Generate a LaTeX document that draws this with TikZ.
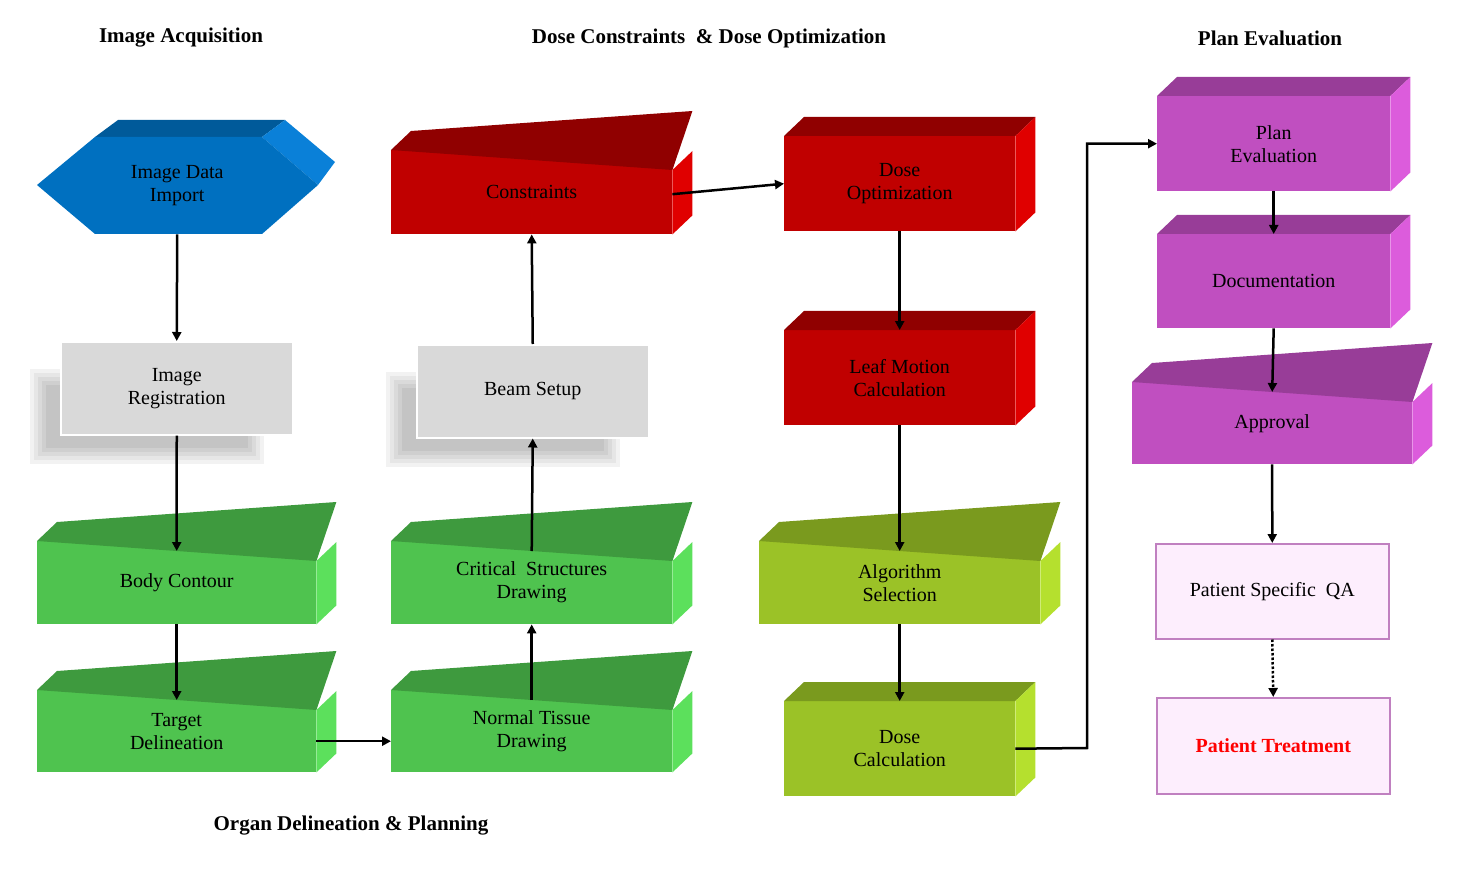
\documentclass[tikz,border=0pt]{standalone}
\usepackage{fontspec}
\setmainfont{Liberation Serif}
\usetikzlibrary{arrows.meta}
\definecolor{grfront}{HTML}{4FC34F}\definecolor{grtop}{HTML}{3E9A3E}\definecolor{grside}{HTML}{5CE05C}
\definecolor{rdfront}{HTML}{C00000}\definecolor{rdtop}{HTML}{900000}\definecolor{rdside}{HTML}{E00000}
\definecolor{ygfront}{HTML}{9BC227}\definecolor{ygtop}{HTML}{7A9A1E}\definecolor{ygside}{HTML}{B5E02E}
\definecolor{pufront}{HTML}{C04FC0}\definecolor{putop}{HTML}{983D98}\definecolor{puside}{HTML}{DC5CDC}
\definecolor{blfront}{HTML}{0070C0}\definecolor{bltop}{HTML}{005A9A}\definecolor{blside}{HTML}{0A80D8}
\definecolor{gyfront}{HTML}{D9D9D9}\definecolor{pkfront}{HTML}{FDEEFD}\definecolor{pkline}{HTML}{C080C0}
% plain cube: top and right faces behind the front rectangle
\newcommand{\cubefaces}[3]{%
  \fill[#2] (#1.north west) -- ++(20,-19) -- ([shift={(20,-19)}]#1.north east) -- (#1.north east) -- cycle;
  \fill[#3] (#1.north east) -- ++(20,-19) -- ([shift={(20,-19)}]#1.south east) -- (#1.south east) -- cycle;}
% slanted cube: front top edge rises to the right
\newcommand{\slantfaces}[4]{%
  \fill[#2] (#1.north west) -- ([yshift=-20]#1.north east) -- (#1.north east) -- cycle;
  \fill[#3] (#1.north west) -- ++(20,-19) -- ([shift={(20,-39)}]#1.north east) -- ([yshift=-20]#1.north east) -- cycle;
  \fill[#4] ([yshift=-20]#1.north east) -- ++(20,-19) -- ([shift={(20,-19)}]#1.south east) -- (#1.south east) -- cycle;}
\newcommand{\softshadow}[1]{%
  \foreach \s in {0,4,...,16}
    \fill[black,opacity=0.05] ([shift={(-30+\s,28-\s)}]#1.south west) rectangle ([shift={(-30-\s,28+\s)}]#1.north east);}
\begin{document}
\begin{tikzpicture}[x=1pt,y=-1pt,
    font=\fontsize{20}{23}\selectfont,
    box/.style={rectangle, inner sep=0pt, align=center, anchor=north west},
    gray box/.style={box, fill=gyfront, draw=white, line width=1.5pt},
    pink box/.style={box, fill=pkfront, draw=pkline, line width=1.5pt},
    title/.style={font=\bfseries\fontsize{21}{24}\selectfont},
    line/.style={-{Triangle[length=9pt,width=9pt]}, line width=2.5pt},
]
\useasboundingbox (0,0) rectangle (1463,874);
% --- TITLES ---
\node[title] (t1) at (181,38) {Image Acquisition};
\node[title] (t2) at (709,38) {Dose Constraints \ \& Dose Optimization};
\node[title] (t3) at (1270,38) {Plan Evaluation};
\node[title] (t4) at (351,826) {Organ Delineation \& Planning};

% --- IMAGE DATA IMPORT (hexagon) ---
\fill[bltop] (95,137) -- (118,120) -- (285,120) -- (262,137) -- cycle;
\fill[blside] (262,137) -- (285,120) -- (335,162) -- (318,185) -- cycle;
\fill[blfront] (37,185) -- (95,137) -- (262,137) -- (318,185) -- (262,234) -- (95,234) -- cycle;
\node[box, minimum width=280, minimum height=97] (import) at (37,137) {Image Data\\Import};

% --- GRAY BOXES ---
\node[gray box, minimum width=232, minimum height=93] (reg) at (60,341) {};
\softshadow{reg}
\node[gray box, minimum width=232, minimum height=93] at (60,341) {Image\\Registration};
\node[gray box, minimum width=232, minimum height=93] (beam) at (416,344) {};
\softshadow{beam}
\node[gray box, minimum width=232, minimum height=93] at (416,344) {Beam Setup};

% --- GREEN ---
\node[box, fill=grfront, minimum width=279, minimum height=83] (body) at (37,541) {Body Contour};
\slantfaces{body}{grfront}{grtop}{grside}
\node[box, fill=grfront, minimum width=279, minimum height=82] (target) at (37,690) {Target\\Delineation};
\slantfaces{target}{grfront}{grtop}{grside}
\node[box, fill=grfront, minimum width=281, minimum height=83] (crit) at (391,541) {Critical \ Structures\\Drawing};
\slantfaces{crit}{grfront}{grtop}{grside}
\node[box, fill=grfront, minimum width=281, minimum height=82] (normal) at (391,690) {Normal Tissue\\Drawing};
\slantfaces{normal}{grfront}{grtop}{grside}

% --- RED ---
\node[box, fill=rdfront, minimum width=281, minimum height=84] (constr) at (391,150) {Constraints};
\slantfaces{constr}{rdfront}{rdtop}{rdside}
\node[box, fill=rdfront, minimum width=231, minimum height=95] (opt) at (784,136) {Dose\\Optimization};
\cubefaces{opt}{rdtop}{rdside}
\node[box, fill=rdfront, minimum width=231, minimum height=95] (leaf) at (784,330) {Leaf Motion\\Calculation};
\cubefaces{leaf}{rdtop}{rdside}

% --- YELLOW-GREEN ---
\node[box, fill=ygfront, minimum width=281, minimum height=83] (algo) at (759,541) {Algorithm\\Selection};
\slantfaces{algo}{ygfront}{ygtop}{ygside}
\node[box, fill=ygfront, minimum width=231, minimum height=95] (calc) at (784,701) {Dose\\Calculation};
\cubefaces{calc}{ygtop}{ygside}

% --- PURPLE ---
\node[box, fill=pufront, minimum width=233, minimum height=95] (plan) at (1157,96) {Plan\\Evaluation};
\cubefaces{plan}{putop}{puside}
\node[box, fill=pufront, minimum width=233, minimum height=94] (doc) at (1157,234) {Documentation};
\cubefaces{doc}{putop}{puside}
\node[box, fill=pufront, minimum width=280, minimum height=82] (appr) at (1132,382) {Approval};
\slantfaces{appr}{pufront}{putop}{puside}

% --- PINK ---
\node[pink box, minimum width=233, minimum height=95] (qa) at (1155,543) {Patient Specific \ QA};
\node[pink box, minimum width=233, minimum height=96, text=red, font=\bfseries\fontsize{20}{23}\selectfont] (treat) at (1156,697) {Patient Treatment};

% --- ARROWS ---
\draw[line] (import.south) -- (reg.north);
\draw[line] (reg.south) -- ([yshift=-10]body.north);
\draw[line] (body.south) -- ([yshift=-10]target.north);
\draw[line] ([yshift=-10]target.east) -- ([yshift=-10]normal.west);
\draw[line] ([yshift=-10]normal.north) -- (crit.south);
\draw[line] ([yshift=-10]crit.north) -- (beam.south);
\draw[line] (beam.north) -- (constr.south);
\draw[line] ([yshift=-2]constr.east) -- (opt.west);
\draw[line] (opt.south) -- (leaf.north);
\draw[line] (leaf.south) -- ([yshift=-10]algo.north);
\draw[line] (algo.south) -- (calc.north);
\draw[line] (calc.east) -- (1087,748) |- (plan.west);
\draw[line] (plan.south) -- (doc.north);
\draw[line] (doc.south) -- ([yshift=-10]appr.north);
\draw[line] (appr.south) -- (qa.north);
\draw[line, dotted] (qa.south) -- (treat.north);
\end{tikzpicture}
\end{document}
